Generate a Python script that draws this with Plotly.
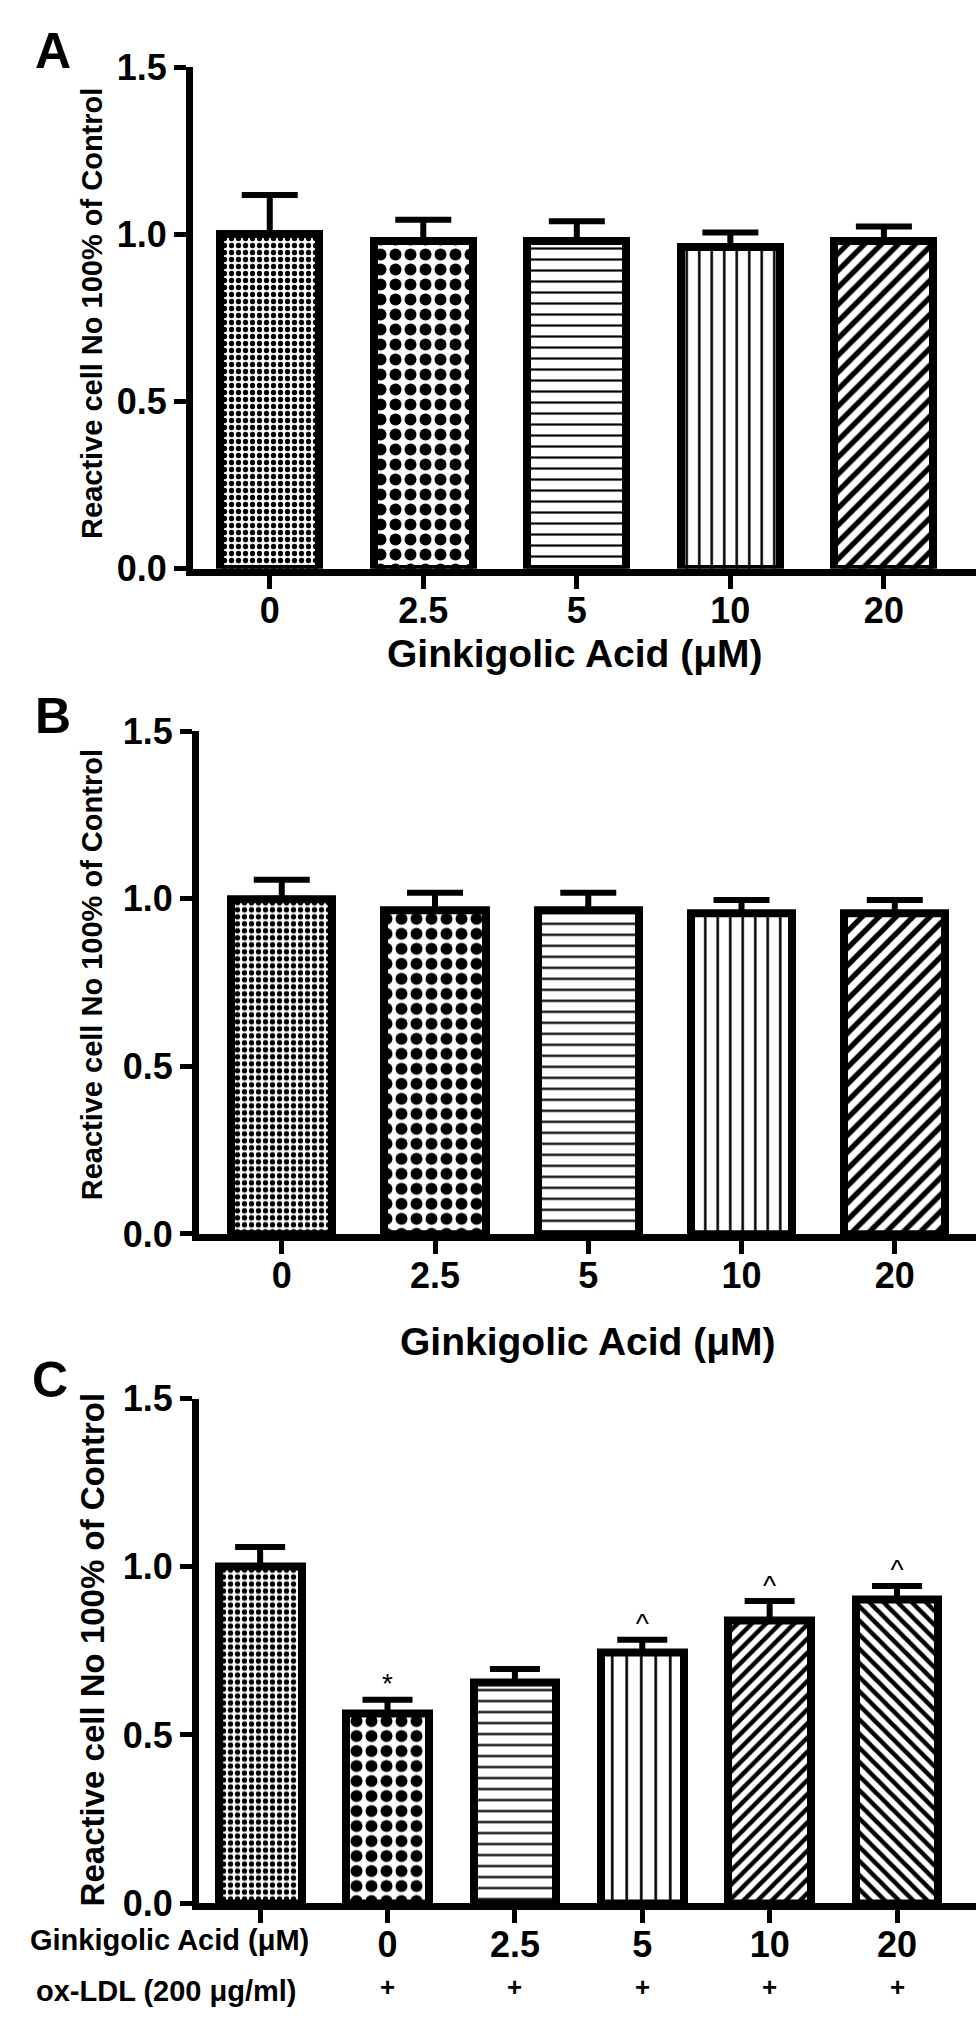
import plotly.graph_objects as go

W, H = 976, 2029
FONT = "Liberation Sans, Arial, sans-serif"

# panel A / B : ginkgolic acid alone
dose_labels = ["0", "2.5", "5", "10", "20"]
a_values = [1.0, 0.98, 0.98, 0.963, 0.98]
a_errors = [0.117, 0.063, 0.059, 0.042, 0.043]

b_values = [1.0, 0.966, 0.966, 0.956, 0.956]
b_errors = [0.057, 0.052, 0.052, 0.041, 0.041]

# panel C : ginkgolic acid + ox-LDL
c_labels = ["", "0", "2.5", "5", "10", "20"]
c_oxldl = ["", "+", "+", "+", "+", "+"]
c_values = [1.0, 0.563, 0.656, 0.746, 0.84, 0.902]
c_errors = [0.059, 0.042, 0.040, 0.037, 0.058, 0.041]
c_sig = ["", "*", "", "^", "^", "^"]

y_ticks = [0, 0.5, 1.0, 1.5]
y_title = "Reactive cell No 100% of Control"
x_title = "Ginkigolic Acid (\u03bcM)"


def py(px):
    # pixel from top -> paper y
    return 1 - px / H


def px_x(px):
    return px / W


tickfont = dict(family=FONT, size=36, color="black", weight="bold")

fig = go.Figure()


def add_bars(vals, errs, shapes, sizes, solid, xa, ya, width, capw):
    idx = list(range(len(vals)))
    fig.add_trace(go.Bar(
        x=idx, y=vals, width=width, xaxis=xa, yaxis=ya,
        marker=dict(color="white", line=dict(color="black", width=8),
                    pattern=dict(shape=shapes, size=sizes, solidity=solid,
                                 fgcolor="black", bgcolor="white", fgopacity=1)),
        error_y=dict(type="data", symmetric=False, array=errs,
                     arrayminus=[0] * len(errs), color="black",
                     thickness=6, width=capw),
        hoverinfo="skip",
    ))


add_bars(a_values, a_errors, [".", ".", "-", "|", "/"], [7, 15, 11, 12.5, 12],
         [0.45, 0.5, 0.2, 0.2, 0.45], "x", "y", 0.645, 28)
add_bars(b_values, b_errors, [".", ".", "-", "|", "/"], [7, 15, 11, 12.5, 12],
         [0.45, 0.5, 0.2, 0.2, 0.45], "x2", "y2", 0.66, 28)
add_bars(c_values, c_errors, [".", ".", "-", "|", "/", "\\"], [7, 15, 11, 14.5, 10, 10],
         [0.45, 0.5, 0.2, 0.18, 0.45, 0.45], "x3", "y3", 0.65, 25)

# significance marks above the error caps
fig.add_trace(go.Scatter(
    x=list(range(len(c_values))),
    y=[v + e + 0.04 for v, e in zip(c_values, c_errors)],
    mode="text", text=c_sig, xaxis="x3", yaxis="y3", cliponaxis=False,
    textfont=dict(family=FONT, size=28, color="black"), hoverinfo="skip",
))


def yax(top, bottom):
    return dict(domain=[py(bottom), py(top)], range=[0, 1.5], tickvals=y_ticks,
                tickformat=".1f", showline=True, linewidth=7, linecolor="black",
                ticks="outside", ticklen=12, tickwidth=5, tickcolor="black",
                showgrid=False, zeroline=False, tickfont=tickfont, fixedrange=True)


def xax(left, rng, labels, anchor):
    return dict(domain=[px_x(left), 1], range=rng, anchor=anchor,
                tickvals=list(range(len(labels))), ticktext=labels,
                showline=True, linewidth=7, linecolor="black",
                ticks="outside", ticklen=13, tickwidth=5, tickcolor="black",
                ticklabelstandoff=-9,
                showgrid=False, zeroline=False, tickfont=tickfont, fixedrange=True)


fig.update_layout(
    width=W, height=H, margin=dict(l=0, r=0, t=0, b=0),
    paper_bgcolor="white", plot_bgcolor="white", showlegend=False,
    bargap=0,
    xaxis=xax(193, [-0.50, 4.60], dose_labels, "y"),
    yaxis=dict(yax(48, 560), anchor="x"),
    xaxis2=xax(199, [-0.54, 4.53], dose_labels, "y2"),
    yaxis2=dict(yax(726, 1239), anchor="x2"),
    xaxis3=xax(199, [-0.48, 5.62], c_labels, "y3"),
    yaxis3=dict(yax(1407, 1922), anchor="x3"),
)

ann = []
# panel letters
for letter, (lx, ly) in zip("ABC", [(53, 32), (53, 710), (50, 1388)]):
    ann.append(dict(text=letter, x=px_x(lx), y=py(ly), xref="paper", yref="paper",
                    showarrow=False, xanchor="center", yanchor="middle",
                    font=dict(family=FONT, size=50, color="black", weight="bold")))
# y titles
for ty, fs in [(300, 29), (975, 29), (1664, 33)]:
    ann.append(dict(text=y_title, x=px_x(92), y=py(ty), xref="paper", yref="paper",
                    textangle=-90, showarrow=False, xanchor="center", yanchor="middle",
                    font=dict(family=FONT, size=fs, color="black", weight="bold")))
# x titles for A and B
for tx, ty in [(575, 647), (588, 1349)]:
    ann.append(dict(text=x_title, x=px_x(tx), y=py(ty), xref="paper", yref="paper",
                    showarrow=False, xanchor="center", yanchor="middle",
                    font=dict(family=FONT, size=39, color="black", weight="bold")))
# row labels for C
ann.append(dict(text=x_title, x=px_x(28), y=py(1960), xref="paper", yref="paper",
                showarrow=False, xanchor="left", yanchor="middle",
                font=dict(family=FONT, size=29, color="black", weight="bold")))
ann.append(dict(text="ox-LDL (200 \u03bcg/ml)", x=px_x(34), y=py(2012), xref="paper",
                yref="paper", showarrow=False, xanchor="left", yanchor="middle",
                font=dict(family=FONT, size=29, color="black", weight="bold")))
for i, s in enumerate(c_oxldl):
    if s:
        ann.append(dict(text=s, x=i, xref="x3", y=py(2008), yref="paper",
                        showarrow=False, xanchor="center", yanchor="middle",
                        font=dict(family=FONT, size=26, color="black", weight="bold")))

fig.update_layout(annotations=ann)

fig.write_html("out.html", config={"displayModeBar": False},
               post_script="document.body.style.margin='0px';")
